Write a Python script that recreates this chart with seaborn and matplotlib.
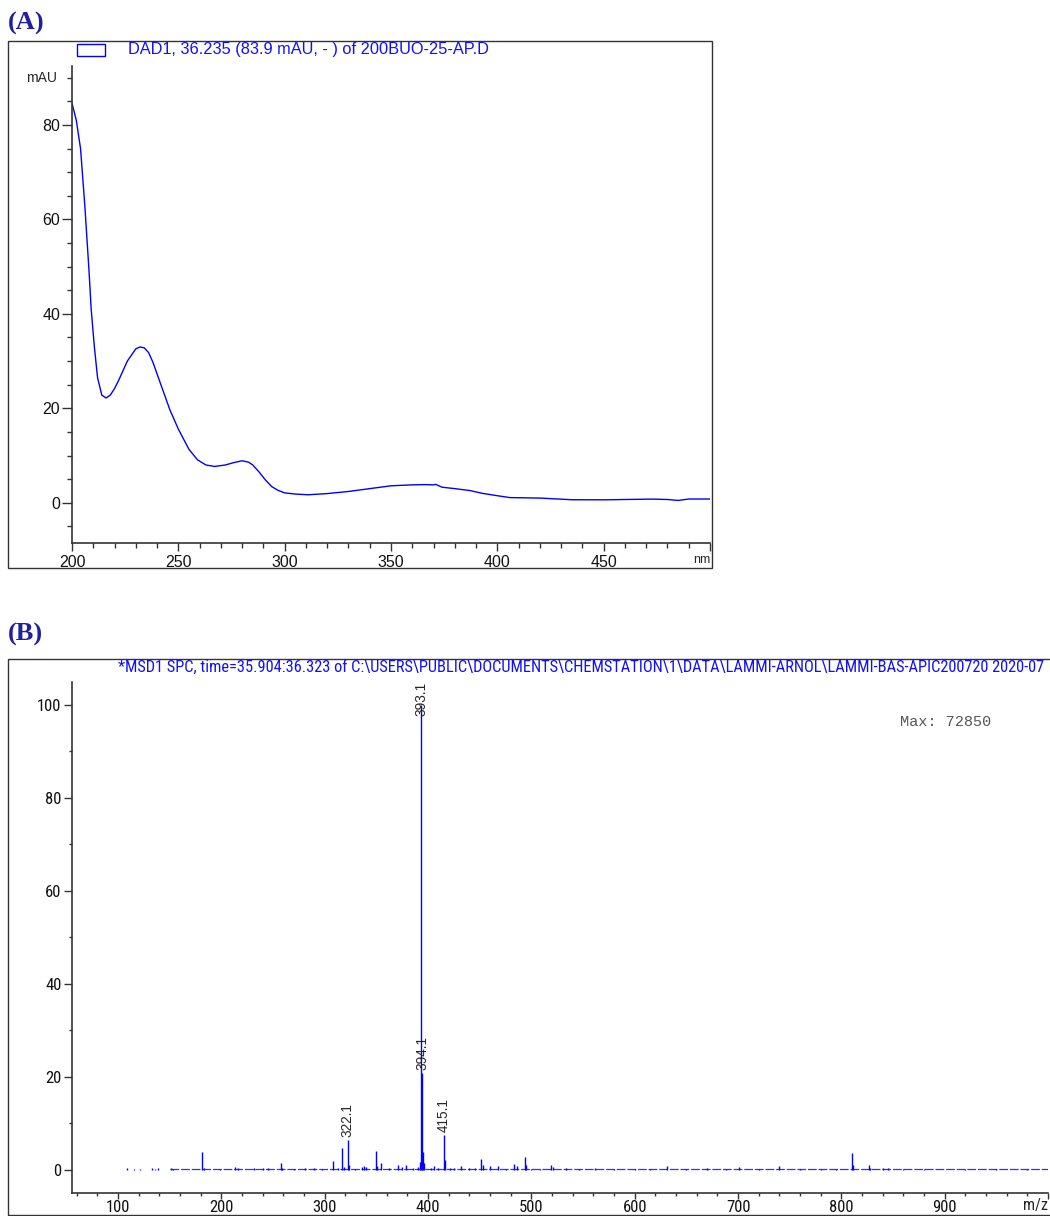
# ------------------------------------------------------------------
# (A) UV spectrum (DAD1) + (B) APCI mass spectrum (MSD1)
# ------------------------------------------------------------------
import matplotlib
matplotlib.use("Agg")
import pandas as pd
import matplotlib.pyplot as plt
import seaborn as sns
from matplotlib import font_manager
from matplotlib.patches import Rectangle
from matplotlib.ticker import MultipleLocator
from matplotlib.transforms import blended_transform_factory

# ------------------------------------------------------------------
# DATA
# ------------------------------------------------------------------
# (A) UV spectrum
wavelength_nm = [200, 202, 204, 206, 208, 209, 210.5, 212, 214, 216,
                 218, 220, 222, 226, 230, 232, 234, 236, 238, 241,
                 246, 250, 255, 259, 263, 267, 272, 276, 280, 283,
                 285, 288, 291, 294, 297, 300, 305, 311, 320, 330,
                 340, 350, 360, 366, 370, 371, 374, 380, 387, 393,
                 400, 406, 420, 435, 450, 460, 473, 480, 485, 490,
                 500]
absorbance_mau = [84.6, 81.0, 75.0, 63.0, 49.0, 41.0, 33.0, 26.5, 22.8, 22.2,
                  22.8, 24.2, 26.0, 30.0, 32.6, 33.0, 32.8, 31.8, 29.8, 26.0,
                  19.7, 15.6, 11.3, 9.1, 8.0, 7.7, 8.0, 8.5, 8.9, 8.6,
                  8.0, 6.5, 4.8, 3.4, 2.6, 2.1, 1.85, 1.7, 1.95, 2.4,
                  3.0, 3.6, 3.8, 3.85, 3.8, 3.9, 3.3, 3.0, 2.6, 2.0,
                  1.5, 1.1, 1.0, 0.65, 0.63, 0.7, 0.78, 0.7, 0.5, 0.8,
                  0.8]
uv_legend = "DAD1, 36.235 (83.9 mAU, - ) of 200BUO-25-AP.D"

# (B) mass spectrum, relative abundance (%)
ms_mz = [109, 115, 121, 133, 136, 139, 151, 153, 181.5, 183,
         199, 213, 216, 232, 240, 245, 257.5, 259, 270, 281,
         290, 297, 308.5, 313, 317, 318.5, 322.5, 324, 329, 336,
         338, 340, 349.5, 351, 354.5, 362, 371, 375, 379, 385,
         390, 392, 393.5, 394.3, 395.2, 396, 403, 406, 410, 415.3,
         416.3, 421, 425, 431.7, 440, 445, 451.7, 453.4, 459.8, 468,
         475, 483.7, 485.7, 493.7, 495.3, 500, 508, 519.3, 521, 533.8,
         546, 562, 580, 600, 615, 631, 650, 670, 688, 701,
         720, 739.2, 760, 780, 795, 810, 811.5, 826.4, 828, 840,
         845, 860, 880, 920, 950, 980]
ms_abundance = [0.4, 0.3, 0.3, 0.5, 0.3, 0.4, 0.5, 0.3, 3.9, 0.5,
                0.3, 0.6, 0.4, 0.4, 0.5, 0.4, 1.6, 0.4, 0.3, 0.5,
                0.5, 0.3, 1.9, 0.4, 4.8, 0.7, 6.5, 1.0, 0.3, 0.7,
                0.8, 0.6, 4.1, 0.8, 1.5, 0.4, 1.0, 0.6, 1.0, 0.5,
                0.7, 1.8, 100.0, 20.8, 3.9, 1.5, 0.4, 0.8, 0.4, 7.5,
                2.1, 0.4, 0.4, 0.8, 0.4, 0.5, 2.3, 1.1, 0.9, 0.9,
                0.3, 1.3, 0.9, 2.9, 1.1, 0.3, 0.3, 1.1, 0.7, 0.5,
                0.3, 0.4, 0.3, 0.3, 0.3, 0.9, 0.3, 0.4, 0.3, 0.6,
                0.3, 0.9, 0.3, 0.3, 0.3, 3.6, 1.0, 1.1, 0.5, 0.4,
                0.4, 0.3, 0.3, 0.3, 0.3, 0.3]
baseline_mz = [150, 1000]
baseline_level = [0.15, 0.15]

label_mz = [322.5, 393.5, 394.3, 415.3]
label_abundance = [6.5, 100.0, 20.8, 7.5]
label_text = ["322.1", "393.1", "394.1", "415.1"]

ms_header = ("*MSD1 SPC, time=35.904:36.323 of C:\\USERS\\PUBLIC\\DOCUMENTS\\CHEMSTATION"
             "\\1\\DATA\\LAMMI-ARNOL\\LAMMI-BAS-APIC200720 2020-07")
ms_max = "Max: 72850"


# ------------------------------------------------------------------
# STYLE
# ------------------------------------------------------------------
def pick_font(names):
    for n in names:
        try:
            font_manager.findfont(n, fallback_to_default=False)
            return n
        except ValueError:
            pass
    return "DejaVu Sans"


sns.set_style("ticks")
sans = pick_font(["Liberation Sans", "Arial", "DejaVu Sans"])
narrow = pick_font(["Liberation Sans Narrow", "Arial Narrow", "Roboto Condensed", "Liberation Sans"])
serif = pick_font(["Liberation Serif", "Times New Roman", "DejaVu Serif"])
mono = pick_font(["Liberation Mono", "Courier New", "DejaVu Sans Mono"])
plt.rcParams["font.family"] = [sans, "DejaVu Sans"]

BLUE = "#0000ff"
AXC = "#333333"
TITLE_C = "#1f1f9f"

fig = plt.figure(figsize=(10.5, 12.16), dpi=100)

# outer frames
fig.add_artist(Rectangle((0.0076, 0.5329), 0.6705, 0.4334, fill=False,
                         edgecolor=AXC, linewidth=1.0, transform=fig.transFigure))
fig.add_artist(Rectangle((0.0076, 0.0008), 1.0, 0.4573, fill=False,
                         edgecolor=AXC, linewidth=1.0, transform=fig.transFigure))

fig.text(0.0076, 0.9753, "(A)", family=serif, fontsize=19, fontweight="bold",
         color=TITLE_C, va="baseline", ha="left")
fig.text(0.0076, 0.4735, "(B)", family=serif, fontsize=19, fontweight="bold",
         color=TITLE_C, va="baseline", ha="left")

# ------------------------------------------------------------------
# (A) UV spectrum
# ------------------------------------------------------------------
axA = fig.add_axes([0.0686, 0.5535, 0.6076, 0.3923])
uv_df = pd.DataFrame({"wavelength": wavelength_nm, "mAU": absorbance_mau})
sns.lineplot(data=uv_df, x="wavelength", y="mAU", ax=axA, color=BLUE, linewidth=1.0)
axA.set_xlim(200, 500)
axA.set_ylim(-8.5, 92.5)
axA.set_xticks(range(200, 501, 50), labels=["200", "250", "300", "350", "400", "450", ""])
axA.set_yticks(range(0, 81, 20))
axA.xaxis.set_minor_locator(MultipleLocator(10))
axA.yaxis.set_minor_locator(MultipleLocator(5))
axA.set_xlabel("")
axA.set_ylabel("")
axA.spines[["top", "right"]].set_visible(False)

fig.add_artist(Rectangle((0.0733, 0.9539), 0.0267, 0.0099, facecolor="white",
                         edgecolor=BLUE, linewidth=1.0, transform=fig.transFigure))
fig.text(0.1219, 0.9589, uv_legend, fontsize=11.8, color="#1010ff", va="center", ha="left")

trA = blended_transform_factory(axA.transAxes, axA.transData)
axA.text(-0.0235, 90, "mAU", transform=trA, fontsize=10, ha="right", va="center")
trA2 = blended_transform_factory(axA.transData, axA.transAxes)
axA.text(500, -0.036, "nm", transform=trA2, fontsize=9, ha="right", va="center")

# ------------------------------------------------------------------
# (B) mass spectrum
# ------------------------------------------------------------------
axB = fig.add_axes([0.0686, 0.0189, 0.9295, 0.4202])
ms_df = pd.DataFrame({"mz": ms_mz, "abundance": ms_abundance})
sns.lineplot(x=baseline_mz, y=baseline_level, ax=axB, color="#3030ff",
             linewidth=0.9, linestyle=(0, (7, 1.5)))
axB.vlines(ms_df["mz"], 0, ms_df["abundance"], color=BLUE, linewidth=1.0)
axB.set_xlim(55.5, 1000)
axB.set_ylim(-4.95, 104.9)
axB.set_xticks(range(100, 1001, 100), labels=[str(v) for v in range(100, 1000, 100)] + [""])
axB.set_yticks(range(0, 101, 20))
axB.xaxis.set_minor_locator(MultipleLocator(20))
axB.yaxis.set_minor_locator(MultipleLocator(10))
axB.spines[["top", "right"]].set_visible(False)

top = axB.get_ylim()[1]
for mz, ab, txt in zip(label_mz, label_abundance, label_text):
    if ab > 90:
        axB.text(mz, top, txt, rotation=90, fontsize=9.8, ha="center", va="top")
    else:
        axB.text(mz, ab + 0.6, txt, rotation=90, fontsize=9.8, ha="center", va="bottom")

trB = blended_transform_factory(axB.transData, axB.transAxes)
axB.text(1000, -0.024, "m/z", transform=trB, family=narrow, fontsize=11.5,
         ha="right", va="center")

fig.text(0.857, 0.4062, ms_max, family=mono, fontsize=11, color="#555555",
         ha="left", va="center")

hdr = fig.text(0.1124, 0.4515, ms_header, family=narrow, fontsize=9.5,
               color="#1010ff", ha="left", va="center")
fig.canvas.draw()
w = hdr.get_window_extent().width
hdr.set_fontsize(9.5 * 930.0 / w)

# ticks
axA.tick_params(axis="x", which="major", length=5.5, pad=3)
axA.tick_params(axis="x", which="minor", length=3.6)
axA.tick_params(axis="y", which="major", length=7, pad=1.5)
axA.tick_params(axis="y", which="minor", length=3.5)
axB.tick_params(axis="x", which="major", length=4.2, pad=1)
axB.tick_params(axis="x", which="minor", length=2.5)
axB.tick_params(axis="y", which="major", length=6, pad=1.5)
axB.tick_params(axis="y", which="minor", length=2.5)
for ax, fam, size in ((axA, sans, 11.5), (axB, narrow, 12)):
    ax.tick_params(axis="both", which="both", width=1.0, color=AXC)
    ax.tick_params(axis="both", which="major", labelsize=size, labelcolor="#111111",
                   labelfontfamily=fam)
    for s in ("left", "bottom"):
        ax.spines[s].set_color(AXC)
        ax.spines[s].set_linewidth(1.2)

fig.savefig("out.png", dpi=100)
